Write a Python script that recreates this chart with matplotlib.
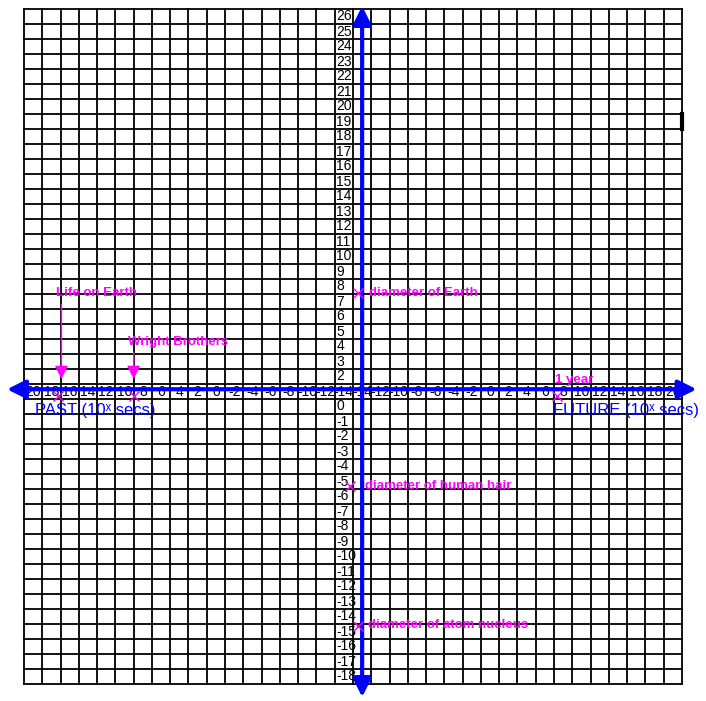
import matplotlib.pyplot as plt

plt.rcParams['font.family'] = ['Liberation Sans', 'DejaVu Sans']

# time axis labels, one per grid column (left half = past, right half = future)
past_labels = [20, 18, 16, 14, 12, 10, 8, 6, 4, 2, 0, -2, -4, -6, -8, -10, -12, -14]
future_labels = [-14, -12, -10, -8, -6, -4, -2, 0, 2, 4, 6, 8, 10, 12, 14, 16, 18, 20]
# size axis labels, one per grid row (the "1" row is taken by the time axis)
size_labels = list(range(26, -19, -1))

# events in the past (10^x secs ago)
past_events = ['Life on Earth', 'Wright Brothers']
past_arrow = [16.9, 9.0]
past_mark = [17.3, 9.0]
# events in the future (10^x secs from now)
future_events = ['1 year']
future_mark = [7.3]
# sizes (10^x metres)
size_events = ['diameter of Earth', 'diameter of human hair', 'diameter of atom nucleus']
size_mark = [7.6, -5.3, -14.6]

# layout
past_text_y = [7.6, 4.3]
past_arrow_top = [6.8, 3.6]
size_mark_dx = [-0.23, -0.67, -0.23]
size_text_dx = [0.37, 0.15, 0.32]

ncols = 36
cw = 658 / ncols   # column width in px
rh = 15            # row height in px
axis_y = 1.15
magenta = '#ff00ff'


def past_x(v):
    return (20 - v) / 2 + 0.5


def future_x(v):
    return 18.5 + (v + 14) / 2


fig = plt.figure(figsize=(7.06, 7.01), dpi=100)
ax = fig.add_axes([0, 0, 1, 1])
ax.set_xlim(-24 / cw, (706 - 24) / cw)
ax.set_ylim(26.5 - (701 - 9) / rh, 26.5 + 9 / rh)
ax.axis('off')

# graph paper
top, bottom = size_labels[0] + 0.5, size_labels[-1] - 0.5
for i in range(ncols + 1):
    ax.plot([i, i], [top, bottom], color='black', lw=1.3, zorder=1)
for j in range(len(size_labels) + 1):
    ax.plot([0, ncols], [top - j, top - j], color='black', lw=1.3, zorder=1)
ax.plot([ncols, ncols], [19.5, 18.5], color='black', lw=3, zorder=1)

# tick labels
for k, v in enumerate(past_labels):
    ax.text(k + 0.5, 1, str(v), ha='center', va='center', fontsize=10, zorder=2)
for k, v in enumerate(future_labels):
    ax.text(18 + k + 0.5, 1, str(v), ha='center', va='center', fontsize=10, zorder=2)
for v in size_labels:
    if v == 1:
        continue
    ax.text(17.08, v, str(v), ha='left', va='center', fontsize=10, zorder=2)

# blue axes
arrow = dict(arrowstyle='<|-|>,head_length=1.1,head_width=0.55', color='blue',
             lw=3, shrinkA=0, shrinkB=0, mutation_scale=10)
ax.annotate('', xy=(-0.93, axis_y), xytext=(36.8, axis_y), arrowprops=arrow, zorder=3)
ax.annotate('', xy=(18.5, 26.7), xytext=(18.5, -19.37), arrowprops=arrow, zorder=3)

ax.text(0.6, -0.25, 'PAST (10ˣ secs)', color='blue', fontsize=12,
        ha='left', va='center', zorder=4)
ax.text(28.94, -0.25, 'FUTURE (10ˣ secs)', color='blue', fontsize=12,
        ha='left', va='center', zorder=4)

# past events
for name, va, vm, ty, at in zip(past_events, past_arrow, past_mark,
                                past_text_y, past_arrow_top):
    x = past_x(va)
    ax.annotate('', xy=(x, 1.83), xytext=(x, at),
                arrowprops=dict(arrowstyle='-|>,head_length=0.8,head_width=0.4',
                                color=magenta, lw=1, shrinkA=0, shrinkB=0,
                                mutation_scale=10), zorder=4)
    ax.text(x - 0.3, ty, name, color=magenta, fontsize=9.5, fontweight='bold',
            ha='left', va='center', zorder=4)
    ax.plot(past_x(vm), 0.7, marker='x', color=magenta, ms=7, mew=1, zorder=4)

# future events
for name, vm in zip(future_events, future_mark):
    x = future_x(vm)
    ax.plot(x, 0.7, marker='x', color=magenta, ms=7, mew=1, zorder=4)
    ax.text(x - 0.1, 1.8, name, color=magenta, fontsize=9.5, fontweight='bold',
            ha='left', va='center', zorder=4)

# sizes
for name, vm, dx, tx in zip(size_events, size_mark, size_mark_dx, size_text_dx):
    ax.plot(18.5 + dx, vm, marker='x', color=magenta, ms=7, mew=1, zorder=4)
    ax.text(18.5 + tx, vm, name, color=magenta, fontsize=9.5, fontweight='bold',
            ha='left', va='center', zorder=4)

fig.savefig('out.png', dpi=100)
